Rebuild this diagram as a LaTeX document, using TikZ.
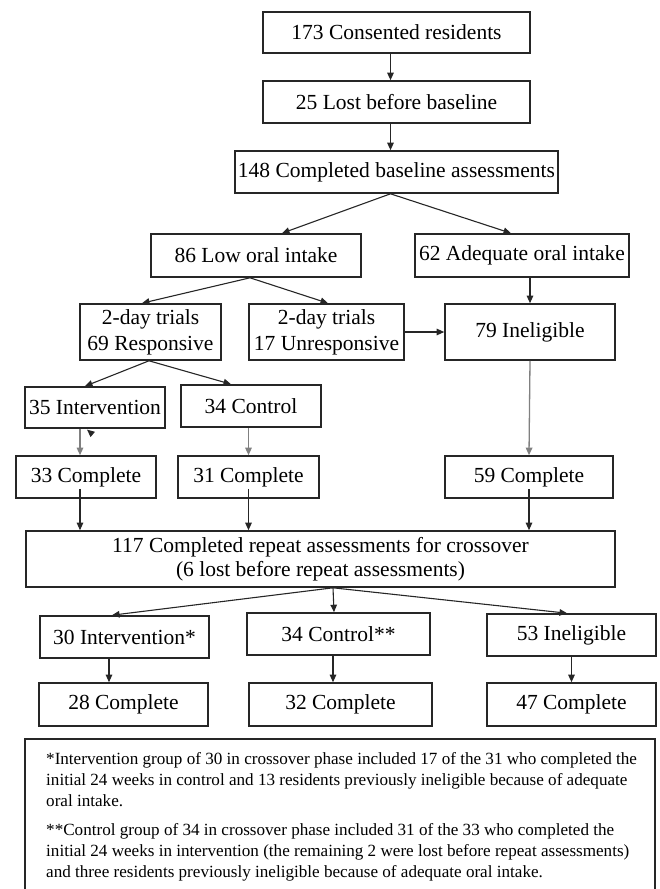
\documentclass[tikz,border=0pt]{standalone}
\usepackage{fontspec}
\setmainfont{Liberation Serif}
\usetikzlibrary{arrows.meta}
\tikzset{
  box/.style={draw=black!85, line width=1.6pt, inner sep=0pt, align=center,
    font=\fontsize{21.5}{26}\selectfont},
  arr/.style={draw=black!85, line width=1.1pt, -{Triangle[length=7.5pt,width=6.5pt]}},
  garr/.style={draw=black!50, line width=1.3pt, -{Triangle[length=7.5pt,width=6.5pt]}},
  notefont/.style={font=\fontsize{17.1}{21.3}\selectfont, align=left, inner sep=0pt, anchor=north west},
}
\begin{document}
\begin{tikzpicture}[x=1pt,y=-1pt]
\useasboundingbox (0,0) rectangle (659,889);
\node[box, minimum width=267pt, minimum height=41pt] (b173) at (396.5,32.5) {173 Consented residents};
\node[box, minimum width=267pt, minimum height=42pt] (b25) at (396.5,102) {25 Lost before baseline};
\node[box, minimum width=323pt, minimum height=42pt] (b148) at (396.5,172) {148 Completed baseline assessments};
\node[box, minimum width=210pt, minimum height=43pt] (b86) at (256,255.5) {86 Low oral intake};
\node[box, minimum width=214pt, minimum height=43pt] (b62) at (522,255.5) {62 Adequate oral intake};
\node[box, minimum width=141pt, minimum height=56pt] (b69) at (150.5,332) {2-day trials\\[0pt]69 Responsive};
\node[box, minimum width=155pt, minimum height=56pt] (b17) at (326.5,332) {2-day trials\\[0pt]17 Unresponsive};
\node[box, minimum width=170pt, minimum height=56pt] (b79) at (530,332) {79 Ineligible};
\node[box, minimum width=140pt, minimum height=41pt] (b35) at (95,407.5) {35 Intervention};
\node[box, minimum width=140pt, minimum height=42pt] (b34) at (251,406) {34 Control};
\node[box, minimum width=140pt, minimum height=42pt] (b33) at (86,477) {33 Complete};
\node[box, minimum width=141pt, minimum height=42pt] (b31) at (248.5,477) {31 Complete};
\node[box, minimum width=168pt, minimum height=42pt] (b59) at (529,477) {59 Complete};
\node[box, minimum width=589pt, minimum height=56pt] (b117) at (320.5,559) {117 Completed repeat assessments for crossover\\[-2pt](6 lost before repeat assessments)};
\node[box, minimum width=169pt, minimum height=42pt] (b30) at (124.5,637) {30 Intervention*};
\node[box, minimum width=183pt, minimum height=42pt] (b34s) at (338.5,634) {34 Control**};
\node[box, minimum width=169pt, minimum height=42pt] (b53) at (571.5,635) {53 Ineligible};
\node[box, minimum width=169pt, minimum height=43pt] (b28) at (123.5,704.5) {28 Complete};
\node[box, minimum width=183pt, minimum height=43pt] (b32) at (340.5,704.5) {32 Complete};
\node[box, minimum width=169pt, minimum height=43pt] (b47) at (571.5,704.5) {47 Complete};
% note box (bottom edge outside the picture)
\coordinate (nbl) at (25,889);
\coordinate (ntl) at (25,739);
\coordinate (ntr) at (655,739);
\coordinate (nbr) at (655,889);
\draw[draw=black!85, line width=1.6pt] (nbl) -- (ntl) -- (ntr) -- (nbr);
\node[notefont] (n1) at (46,752) {*Intervention group of 30 in crossover phase included 17 of the 31 who completed the\\initial 24 weeks in control and 13 residents previously ineligible because of adequate\\oral intake.};
\node[notefont] (n2) at (46,823) {**Control group of 34 in crossover phase included 31 of the 33 who completed the\\initial 24 weeks in intervention (the remaining 2 were lost before repeat assessments)\\and three residents previously ineligible because of adequate oral intake.};
% connectors
\draw[arr] ([xshift=-6pt]b173.south) -- ([xshift=-6pt]b25.north);
\draw[arr] ([xshift=-6pt]b25.south) -- ([xshift=-6pt]b148.north);
\draw[arr] ([xshift=-6pt]b148.south) -- ([xshift=26pt]b86.north);
\draw[arr] ([xshift=-6pt]b148.south) -- ([xshift=-11pt]b62.north);
\draw[arr] (b62.south -| b79.north) -- (b79.north);
\draw[arr] ([xshift=-6pt]b86.south) -- ([xshift=-8.5pt]b69.north);
\draw[arr] ([xshift=-6pt]b86.south) -- ([xshift=1.5pt]b17.north);
\draw[arr] (b17.east) -- (b79.west);
\draw[arr] ([xshift=-1.5pt]b69.south) -- ([xshift=-10pt]b35.north);
\draw[arr] ([xshift=-1.5pt]b69.south) -- ([xshift=-20pt]b34.north);
\draw[garr] ([xshift=-6pt]b33.north |- b35.south) -- ([xshift=-6pt]b33.north);
\draw[arr] ([xshift=-3pt,yshift=-5pt]b35.south) -- ([xshift=-8pt,yshift=-0.8pt]b35.south);
\draw[garr] (b31.north |- b34.south) -- (b31.north);
\draw[garr] (b79.south) -- (b59.north);
\draw[arr] ([xshift=-6pt,yshift=10pt]b33.south) -- ([xshift=-6pt]b33.south |- b117.north);
\draw[arr] ([yshift=10pt]b31.south) -- (b31.south |- b117.north);
\draw[arr] ([yshift=10pt]b59.south) -- (b59.south |- b117.north);
\draw[arr] ([xshift=12.5pt]b117.south) -- ([xshift=-12.5pt]b30.north);
\draw[arr] ([xshift=12.5pt]b117.south) -- ([xshift=-4.5pt]b34s.north);
\draw[arr] ([xshift=12.5pt]b117.south) -- ([xshift=-4.5pt]b53.north);
\draw[arr] ([xshift=-15.5pt]b30.south) -- ([xshift=-14.5pt]b28.north);
\draw[arr] ([xshift=-5.5pt]b34s.south) -- ([xshift=-7.5pt]b32.north);
\draw[arr] (b53.south) -- (b47.north);
\end{tikzpicture}
\end{document}
